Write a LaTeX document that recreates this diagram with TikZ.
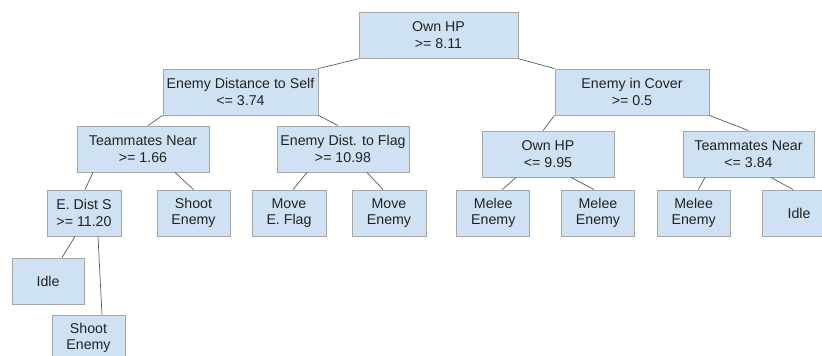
\documentclass[tikz,border=0pt]{standalone}
\usepackage{fontspec}
\setmainfont{Liberation Sans}
\definecolor{boxfill}{HTML}{CFE2F3}
\definecolor{boxline}{HTML}{A6A6A6}
\definecolor{edgecol}{HTML}{595959}
\definecolor{txt}{HTML}{222222}
\tikzset{
  box/.style={draw=boxline, fill=boxfill, line width=0.9pt, inner sep=0pt,
    minimum height=46pt, align=center, text=txt,
    font=\fontsize{14.2}{16.5}\selectfont},
  wide/.style={box, minimum width=#1pt},
  edge/.style={draw=edgecol, line width=0.7pt}
}
\begin{document}
\begin{tikzpicture}[x=1pt,y=-1pt]
\useasboundingbox (0,0) rectangle (822,356);
\begin{scope}
\clip (0,0) rectangle (822,356);
% level 0
\node[wide=159] (root) at (438.5,35.3) {Own HP\\>= 8.11};
% level 1
\node[wide=155] (eds) at (240.5,92) {Enemy Distance to Self\\<= 3.74};
\node[wide=154] (eic) at (632,92) {Enemy in Cover\\>= 0.5};
% level 2
\node[wide=132] (tn) at (143,149) {Teammates Near\\>= 1.66};
\node[wide=132] (edf) at (343,149) {Enemy Dist. to Flag\\>= 10.98};
\node[wide=132] (ohp) at (548,154) {Own HP\\<= 9.95};
\node[wide=131] (tnb) at (748.5,154) {Teammates Near\\<= 3.84};
% level 3
\node[wide=74] (edss) at (84,213) {E. Dist S\\>= 11.20};
\node[wide=73] (shoota) at (193.5,213) {Shoot\\Enemy};
\node[wide=74] (moveflag) at (289,213) {Move\\E. Flag};
\node[wide=74] (moveenemy) at (389,213) {Move\\Enemy};
\node[wide=73] (meleea) at (493.3,213) {Melee\\Enemy};
\node[wide=73] (meleeb) at (598,213) {Melee\\Enemy};
\node[wide=73] (meleec) at (693.7,213) {Melee\\Enemy};
\node[wide=74] (idleb) at (799,213) {Idle};
% level 4
\node[wide=72] (idlea) at (48,281) {Idle};
\node[wide=73] (shootb) at (88.5,338) {Shoot\\Enemy};
% edges
\draw[edge] (root.south west) -- (eds.north east);
\draw[edge] (root.south east) -- (eic.north west);
\draw[edge] (eds.south west) -- ([xshift=5pt]tn.north);
\draw[edge] (eds.south east) -- ([xshift=-5pt]edf.north);
\draw[edge] (eic.south west) -- ([xshift=-5pt]ohp.north);
\draw[edge] (eic.south east) -- (tnb.north);
\draw[edge] ([xshift=-50pt]tn.south) -- ([xshift=1pt]edss.north);
\draw[edge] ([xshift=32pt]tn.south) -- (shoota.north);
\draw[edge] ([xshift=-36pt]edf.south) -- ([xshift=4pt]moveflag.north);
\draw[edge] ([xshift=24pt]edf.south) -- ([xshift=-6pt]moveenemy.north);
\draw[edge] ([xshift=-32pt]ohp.south) -- ([xshift=9pt]meleea.north);
\draw[edge] ([xshift=23pt]ohp.south) -- ([xshift=-4pt]meleeb.north);
\draw[edge] ([xshift=-43.5pt]tnb.south) -- ([xshift=4.5pt]meleec.north);
\draw[edge] ([xshift=22.5pt]tnb.south) -- ([xshift=-6pt]idleb.north);
\draw[edge] ([xshift=-9pt]edss.south) -- ([xshift=14pt]idlea.north);
\draw[edge] ([xshift=14pt]edss.south) -- ([xshift=13.5pt]shootb.north);
\end{scope}
\end{tikzpicture}
\end{document}
